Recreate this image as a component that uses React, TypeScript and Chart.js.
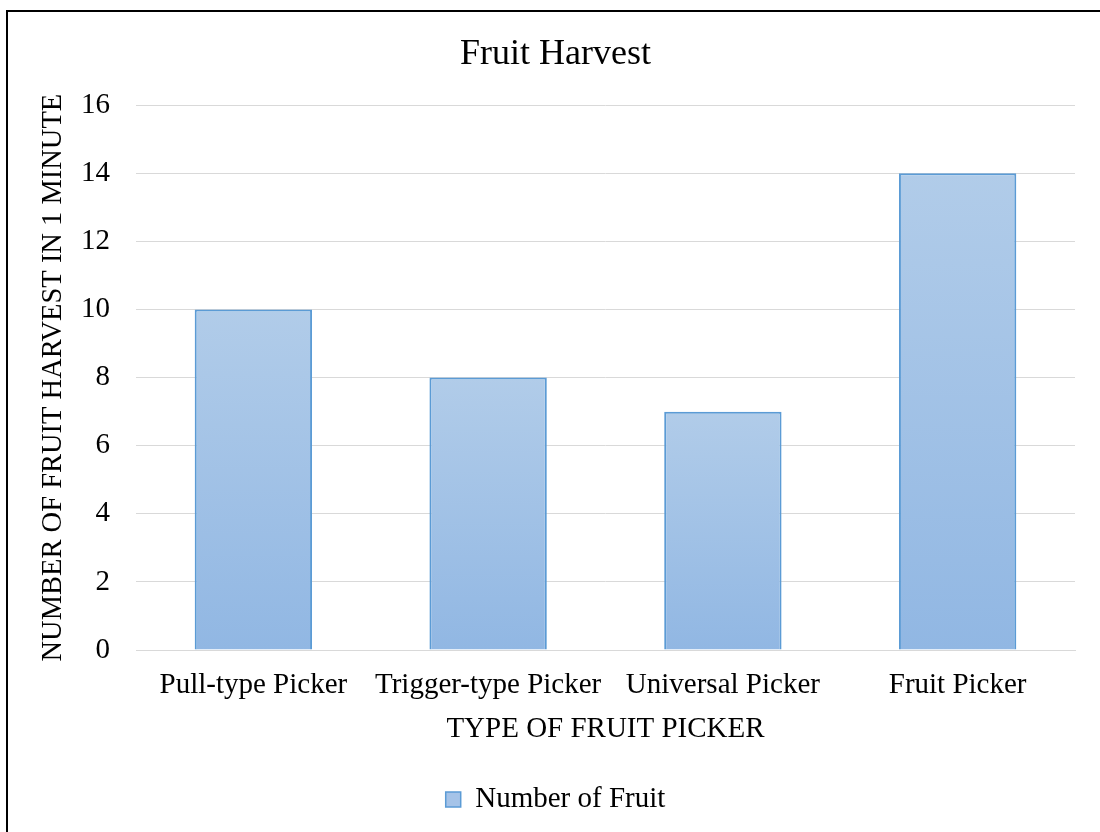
import React, { useEffect, useRef } from "react";
import { Chart, registerables } from "chart.js";

Chart.register(...registerables);

const categories = ["Pull-type Picker", "Trigger-type Picker", "Universal Picker", "Fruit Picker"];
const fruitCounts = [10, 8, 7, 14];
const seriesLabel = "Number of Fruit";
const chartTitle = "Fruit Harvest";
const xTitle = "TYPE OF FRUIT PICKER";
const yTitle = "NUMBER OF FRUIT HARVEST IN 1 MINUTE";

const FONT = "'Liberation Serif', 'Times New Roman', serif";

export default function App() {
  const ref = useRef<HTMLCanvasElement | null>(null);

  useEffect(() => {
    if (!ref.current) return;
    const chart = new Chart(ref.current, {
      type: "bar",
      data: {
        labels: categories,
        datasets: [
          {
            label: seriesLabel,
            data: fruitCounts,
            backgroundColor: (ctx: any) => {
              const c = ctx.chart;
              const y = c.scales && c.scales.y;
              if (!y || ctx.dataIndex === undefined || ctx.type !== "data") return "#a5c3e8";
              const top = y.getPixelForValue(fruitCounts[ctx.dataIndex]);
              const bottom = y.getPixelForValue(0);
              if (!isFinite(top) || !isFinite(bottom) || top === bottom) return "#a5c3e8";
              const g = c.ctx.createLinearGradient(0, top, 0, bottom);
              g.addColorStop(0, "#b1cce9");
              g.addColorStop(1, "#91b7e3");
              return g;
            },
            borderColor: "#5b9bd5",
            borderWidth: 2,
            categoryPercentage: 1,
            barPercentage: 0.5,
          },
        ],
      },
      options: {
        animation: false,
        responsive: false,
        layout: { padding: { left: 36, right: 25, top: 33, bottom: 8 } },
        plugins: {
          title: {
            display: true,
            text: chartTitle,
            color: "#000",
            font: { family: FONT, size: 36, weight: "normal" },
            padding: { top: 0, bottom: 29 },
          },
          legend: {
            position: "bottom",
            labels: {
              color: "#000",
              font: { family: FONT, size: 29 },
              boxWidth: 15,
              boxHeight: 15,
              padding: 20,
              generateLabels: () => [
                {
                  text: seriesLabel,
                  fillStyle: "#a5c3e8",
                  strokeStyle: "#5b9bd5",
                  lineWidth: 1.5,
                  hidden: false,
                  datasetIndex: 0,
                },
              ],
            },
          },
          tooltip: { enabled: false },
        },
        scales: {
          x: {
            afterFit: (scale: any) => {
              scale.height = 115;
            },
            grid: { display: false, drawTicks: false },
            border: { display: true, color: "#d9d9d9", width: 1 },
            ticks: {
              color: "#000",
              font: { family: FONT, size: 29 },
              padding: 18,
              maxRotation: 0,
              autoSkip: false,
            },
            title: {
              display: true,
              text: xTitle,
              color: "#000",
              font: { family: FONT, size: 29 },
              padding: { top: 0, bottom: 18.6 },
            },
          },
          y: {
            afterFit: (scale: any) => {
              scale.width = 100;
            },
            min: 0,
            max: 16,
            ticks: {
              stepSize: 2,
              color: "#000",
              font: { family: FONT, size: 29 },
              padding: 26,
            },
            grid: { color: "#d9d9d9", drawTicks: false, lineWidth: 1 },
            border: { display: false },
            title: {
              display: true,
              text: yTitle,
              color: "#000",
              font: { family: FONT, size: 28.5 },
              padding: { top: 0, bottom: 0 },
            },
          },
        },
      },
    });
    return () => chart.destroy();
  }, []);

  return (
    <div style={{ position: "fixed", left: 0, top: 0, width: 1100, height: 832, background: "#fff" }}>
      <canvas ref={ref} width={1100} height={832} style={{ position: "absolute", left: 0, top: 0, width: 1100, height: 832 }} />
      <div
        style={{
          position: "absolute",
          left: 6,
          top: 10,
          width: 1100,
          height: 830,
          borderLeft: "2px solid #000",
          borderTop: "2px solid #000",
          pointerEvents: "none",
        }}
      />
    </div>
  );
}
